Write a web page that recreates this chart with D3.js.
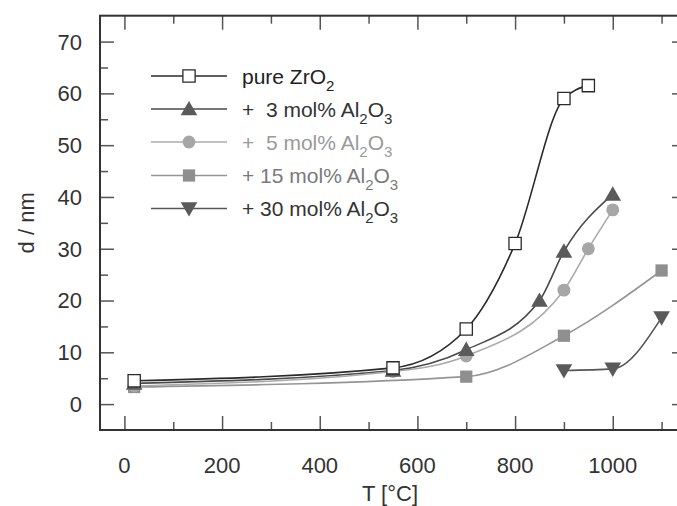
<!DOCTYPE html>
<html>
<head>
<meta charset="utf-8">
<script src="https://cdn.jsdelivr.net/npm/d3@7"></script>
<style>
  body { margin: 0; background: #fff; }
  text { font-family: "Liberation Sans", Arial, sans-serif; }
</style>
</head>
<body>
<svg id="chart" width="677" height="506"></svg>
<script>
// temperature [°C] and crystallite size d [nm]
const pureT = [20, 550, 700, 800, 900, 950];
const pureD = [4.5, 7, 14.5, 31, 59, 61.5];
const al3T = [20, 550, 700, 850, 900, 1000];
const al3D = [4, 6.5, 10.5, 20, 29.5, 40.5];
const al5T = [20, 550, 700, 900, 950, 1000];
const al5D = [3.5, 6.3, 9.3, 22, 30, 37.5];
const al15T = [20, 700, 900, 1100];
const al15D = [3.3, 5.3, 13.2, 25.8];
const al30T = [900, 1000, 1100];
const al30D = [6.5, 6.8, 16.7];

const seriesNames = ["pure ZrO", "+  3 mol% Al", "+  5 mol% Al", "+ 15 mol% Al", "+ 30 mol% Al"];
const xMajor = [0, 200, 400, 600, 800, 1000];
const xMinor = [100, 300, 500, 700, 900, 1100];
const yMajor = [0, 10, 20, 30, 40, 50, 60, 70];
const yMinor = [5, 15, 25, 35, 45, 55, 65];

const series = [
    { name: seriesNames[0], t: pureT, d: pureD, line: "#2a2a2a", fill: "#fff", stroke: "#2a2a2a", text: "#222", marker: "square" },
    { name: seriesNames[1], t: al3T, d: al3D, line: "#4a4a4a", fill: "#5a5a5a", stroke: "none", text: "#333", marker: "triangle" },
    { name: seriesNames[2], t: al5T, d: al5D, line: "#ababab", fill: "#a6a6a6", stroke: "none", text: "#9a9a9a", marker: "circle" },
    { name: seriesNames[3], t: al15T, d: al15D, line: "#959595", fill: "#8f8f8f", stroke: "none", text: "#7a7a7a", marker: "square" },
    { name: seriesNames[4], t: al30T, d: al30D, line: "#555", fill: "#5a5a5a", stroke: "none", text: "#333", marker: "down" }
];

const svg = d3.select("#chart");
const pLeft = 100, pRight = 686, pTop = 15.7, pBottom = 430;

const x = d3.scaleLinear().domain([-50, 1150]).range([pLeft, pRight]);
const y = d3.scaleLinear().domain([-5, 75]).range([pBottom, pTop]);

// ticks, all pointing inward
function axes(gen, scale, vals, size, tx, ty) {
    const g = svg.append("g")
        .attr("transform", `translate(${tx},${ty})`)
        .call(gen(scale).tickValues(vals).tickSize(size).tickFormat(""));
    g.select(".domain").remove();
    g.selectAll(".tick line").attr("stroke", "#555").attr("stroke-width", 1.5);
    return g;
}
axes(d3.axisBottom, x, xMajor, -14, 0, pBottom);
axes(d3.axisBottom, x, xMinor, -8, 0, pBottom);
axes(d3.axisTop, x, xMajor, -14, 0, pTop);
axes(d3.axisTop, x, xMinor, -8, 0, pTop);
axes(d3.axisLeft, y, yMajor, -14, pLeft, 0);
axes(d3.axisLeft, y, yMinor, -8, pLeft, 0);
axes(d3.axisRight, y, yMajor, -14, pRight, 0);
axes(d3.axisRight, y, yMinor, -8, pRight, 0);

svg.append("rect")
    .attr("x", pLeft).attr("y", pTop)
    .attr("width", pRight - pLeft).attr("height", pBottom - pTop)
    .attr("fill", "none").attr("stroke", "#333").attr("stroke-width", 2);

// tick labels
svg.append("g").selectAll("text")
    .data(xMajor)
    .enter()
    .append("text")
    .attr("x", d => x(d))
    .attr("y", 473)
    .attr("text-anchor", "middle")
    .attr("font-size", "22px")
    .attr("fill", "#333")
    .text(d => d);

svg.append("g").selectAll("text")
    .data(yMajor)
    .enter()
    .append("text")
    .attr("x", 82)
    .attr("y", d => y(d))
    .attr("dy", "0.36em")
    .attr("text-anchor", "end")
    .attr("font-size", "22px")
    .attr("fill", "#333")
    .text(d => d);

svg.append("text")
    .attr("x", (pLeft + pRight) / 2 - 3)
    .attr("y", 501)
    .attr("text-anchor", "middle")
    .attr("font-size", "22px")
    .attr("fill", "#333")
    .text("T [°C]");

svg.append("text")
    .attr("transform", `translate(34,${(pTop + pBottom) / 2}) rotate(-90)`)
    .attr("text-anchor", "middle")
    .attr("font-size", "22px")
    .attr("fill", "#333")
    .text("d / nm");

function drawMarker(g, type, cx, cy) {
    const sym = { square: d3.symbolSquare, triangle: d3.symbolTriangle, circle: d3.symbolCircle, down: d3.symbolTriangle }[type];
    const size = { square: 150, triangle: 120, circle: 130, down: 120 }[type];
    let tr = `translate(${cx},${cy})`;
    if (type === "down") tr += " rotate(180) translate(0,1.5)";
    if (type === "triangle") tr += " translate(0,1.5)";
    return g.append("path")
        .attr("d", d3.symbol().type(sym).size(size)())
        .attr("transform", tr);
}

const line = d3.line().curve(d3.curveMonotoneX);

series.forEach(s => {
    const pts = s.t.map((t, i) => [x(t), y(s.d[i])]);
    svg.append("path")
        .attr("d", line(pts))
        .attr("fill", "none")
        .attr("stroke", s.line)
        .attr("stroke-width", 1.6);
});

// markers on top, last series first so pure ZrO2 sits on top
series.slice().reverse().forEach(s => {
    const g = svg.append("g");
    s.t.forEach((t, i) => {
        drawMarker(g, s.marker, x(t), y(s.d[i]))
            .attr("fill", s.fill)
            .attr("stroke", s.stroke)
            .attr("stroke-width", 1.3);
    });
});

// legend
const legRows = [76, 109, 142, 175.5, 208.5];
series.forEach((s, i) => {
    const g = svg.append("g");
    const ly = legRows[i];
    g.append("line")
        .attr("x1", 151).attr("x2", 227)
        .attr("y1", ly).attr("y2", ly)
        .attr("stroke", s.line).attr("stroke-width", 1.6);
    drawMarker(g, s.marker, 189, ly)
        .attr("fill", s.fill)
        .attr("stroke", s.stroke)
        .attr("stroke-width", 1.3);
    const txt = g.append("text")
        .attr("x", 242)
        .attr("y", ly + 7.5)
        .attr("font-size", "21px")
        .attr("fill", s.text)
        .attr("xml:space", "preserve")
        .style("white-space", "pre");
    txt.append("tspan").text(s.name);
    txt.append("tspan").attr("dy", 7).attr("font-size", "15px").text("2");
    if (i > 0) {
        txt.append("tspan").attr("dy", -7).text("O");
        txt.append("tspan").attr("dy", 7).attr("font-size", "15px").text("3");
    }
});
</script>
</body>
</html>
